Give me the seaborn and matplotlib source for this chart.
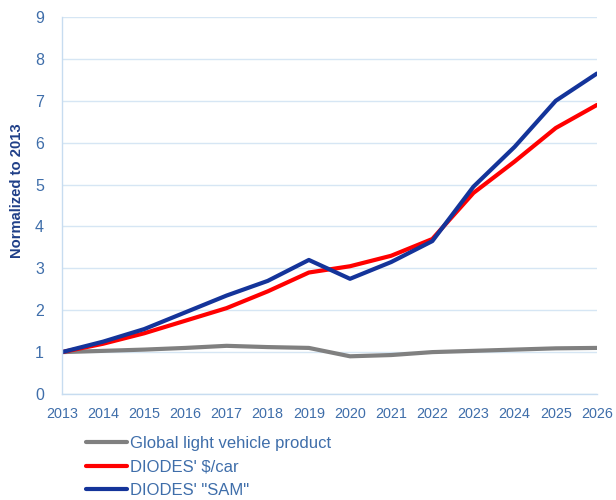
import matplotlib
matplotlib.use("Agg")
import matplotlib.pyplot as plt
import seaborn as sns
import pandas as pd

years = list(range(2013, 2027))
vehicle = [1.0, 1.03, 1.06, 1.10, 1.15, 1.12, 1.10, 0.90, 0.93, 1.00, 1.03, 1.06, 1.09, 1.10]
dollar_per_car = [1.0, 1.20, 1.45, 1.75, 2.05, 2.45, 2.90, 3.05, 3.30, 3.70, 4.80, 5.55, 6.35, 6.90]
sam = [1.0, 1.25, 1.55, 1.95, 2.35, 2.70, 3.20, 2.75, 3.15, 3.65, 4.95, 5.90, 7.00, 7.65]
series_names = ["Global light vehicle product", "DIODES' $/car", "DIODES' \"SAM\""]
yticks = list(range(0, 10))

sns.set_theme(style="white")
plt.rcParams['font.family'] = ['Liberation Sans', 'DejaVu Sans']

df = pd.DataFrame({
    "year": years * 3,
    "value": vehicle + dollar_per_car + sam,
    "series": [series_names[0]] * len(years) + [series_names[1]] * len(years) + [series_names[2]] * len(years),
})

fig = plt.figure(figsize=(6.16, 5.0), dpi=100)
ax = fig.add_axes([0.1006, 0.212, 0.8684, 0.754])
palette = {series_names[0]: "#808080", series_names[1]: "#ff0000", series_names[2]: "#14349a"}
sns.lineplot(data=df, x="year", y="value", hue="series", palette=palette,
             linewidth=3.0, ax=ax, legend=True)

ax.set_xlim(2013, 2026)
ax.set_ylim(0, 9)
ax.set_xticks(years)
ax.set_yticks(yticks)
ax.set_xticklabels([str(y) for y in years])
ax.tick_params(axis="x", length=0, labelsize=10.4, labelcolor="#3f6eaa", pad=9)
ax.tick_params(axis="y", length=0, labelsize=11.5, labelcolor="#3f6eaa", pad=13)
ax.grid(axis="y", color="#d6e6f4", linewidth=1)
ax.grid(axis="x", visible=False)
for s in ["top", "right"]:
    ax.spines[s].set_visible(False)
for s in ["left", "bottom"]:
    ax.spines[s].set_color("#c7dcf0")
    ax.spines[s].set_linewidth(1)
ax.set_xlabel("")
ax.set_ylabel("Normalized to 2013", fontsize=10.6, fontweight="bold", color="#1f3f88")
ax.yaxis.set_label_coords(-0.071, 0.54)

leg = ax.legend(loc="upper left", bbox_to_anchor=(0.032, -0.093), frameon=False,
                fontsize=12, handlelength=2.5, handletextpad=0.15, labelspacing=0.52,
                borderaxespad=0)
for t in leg.get_texts():
    t.set_color("#3f6eaa")

fig.savefig("out.png", dpi=100)
